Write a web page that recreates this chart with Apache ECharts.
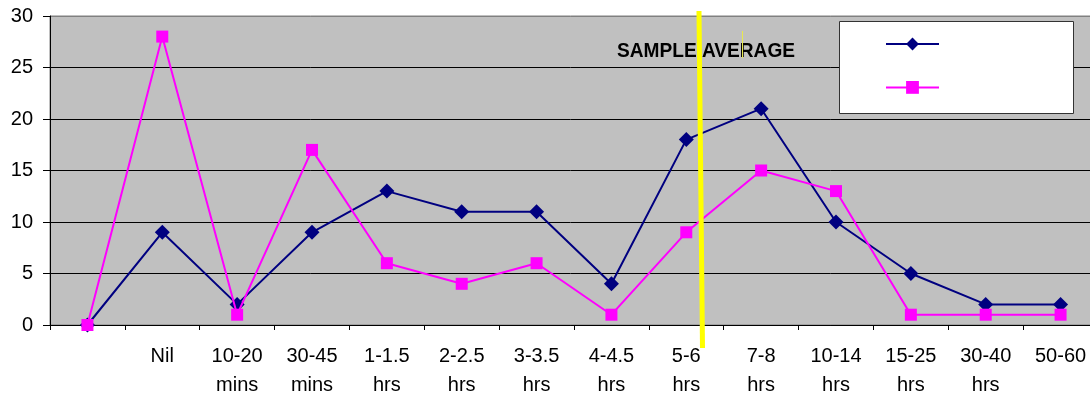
<!DOCTYPE html>
<html>
<head>
<meta charset="utf-8">
<script src="https://cdn.jsdelivr.net/npm/echarts@6/dist/echarts.min.js"></script>
<style>
html,body{margin:0;padding:0;background:#fff;}
#chart{width:1090px;height:397px;}
</style>
</head>
<body>
<div id="chart"></div>
<script>
var categories = ['', 'Nil', '10-20\nmins', '30-45\nmins', '1-1.5\nhrs', '2-2.5\nhrs', '3-3.5\nhrs', '4-4.5\nhrs', '5-6\nhrs', '7-8\nhrs', '10-14\nhrs', '15-25\nhrs', '30-40\nhrs', '50-60'];
var seriesBlue = [0, 9, 2, 9, 13, 11, 11, 4, 18, 21, 10, 5, 2, 2];
var seriesPink = [0, 28, 1, 17, 6, 4, 6, 1, 9, 15, 13, 1, 1, 1];
var yTicks = [0, 5, 10, 15, 20, 25, 30];
var annotationText = 'SAMPLE AVERAGE';

var chart = echarts.init(document.getElementById('chart'), null, {renderer: 'canvas'});
var font = '"Liberation Sans", Arial, sans-serif';
chart.setOption({
  animation: false,
  grid: {
    left: 50, top: 16, width: 1048, bottom: 72,
    outerBoundsMode: 'none', containLabel: false,
    show: true, backgroundColor: '#c0c0c0', borderColor: '#808080', borderWidth: 1
  },
  legend: {
    show: true,
    left: 885, top: 36,
    orient: 'vertical',
    itemWidth: 53, itemHeight: 16, itemGap: 29,
    padding: 0,
    formatter: function () { return ''; },
    z: 20,
    data: [' ', '  ']
  },
  xAxis: {
    type: 'category',
    data: categories,
    boundaryGap: true,
    axisLine: {show: true, lineStyle: {color: '#000', width: 1}},
    axisTick: {show: true, length: 5, interval: 0, lineStyle: {color: '#000'}},
    axisLabel: {interval: 0, color: '#000', fontFamily: font, fontSize: 20, lineHeight: 29, margin: 17},
    splitLine: {show: false}
  },
  yAxis: {
    type: 'value',
    min: yTicks[0], max: yTicks[yTicks.length - 1], interval: 5,
    axisLine: {show: true, lineStyle: {color: '#000', width: 1}},
    axisTick: {show: true, length: 7, lineStyle: {color: '#000'}},
    axisLabel: {color: '#000', fontFamily: font, fontSize: 20, margin: 17},
    splitLine: {show: true, lineStyle: {color: ['#000', '#000', '#000', '#000', '#000', '#000', '#808080'], width: 1}}
  },
  series: [
    {
      name: ' ', type: 'line', data: seriesBlue,
      symbol: 'diamond', symbolSize: 15,
      lineStyle: {color: '#000080', width: 2},
      itemStyle: {color: '#000080'},
      z: 3
    },
    {
      name: '  ', type: 'line', data: seriesPink,
      symbol: 'rect', symbolSize: 12,
      lineStyle: {color: '#ff00ff', width: 2},
      itemStyle: {color: '#ff00ff'},
      z: 4
    }
  ],
  graphic: [
    {
      type: 'rect', z: 10,
      shape: {x: 839.5, y: 21.5, width: 234, height: 92},
      style: {fill: '#ffffff', stroke: '#333333', lineWidth: 1}
    },
    {
      type: 'text', z: 12, x: 617, y: 51, scaleX: 0.91,
      style: {text: annotationText, fill: '#000', font: 'bold 21px ' + font, textVerticalAlign: 'middle', verticalAlign: 'middle'}
    },
    {
      type: 'line', z: 30,
      shape: {x1: 699, y1: 11, x2: 702.5, y2: 348},
      style: {stroke: '#ffff00', lineWidth: 5}
    },
    {
      type: 'line', z: 30,
      shape: {x1: 742.5, y1: 31, x2: 742.5, y2: 58},
      style: {stroke: '#e8e850', lineWidth: 1}
    }
  ]
});
</script>
</body>
</html>
